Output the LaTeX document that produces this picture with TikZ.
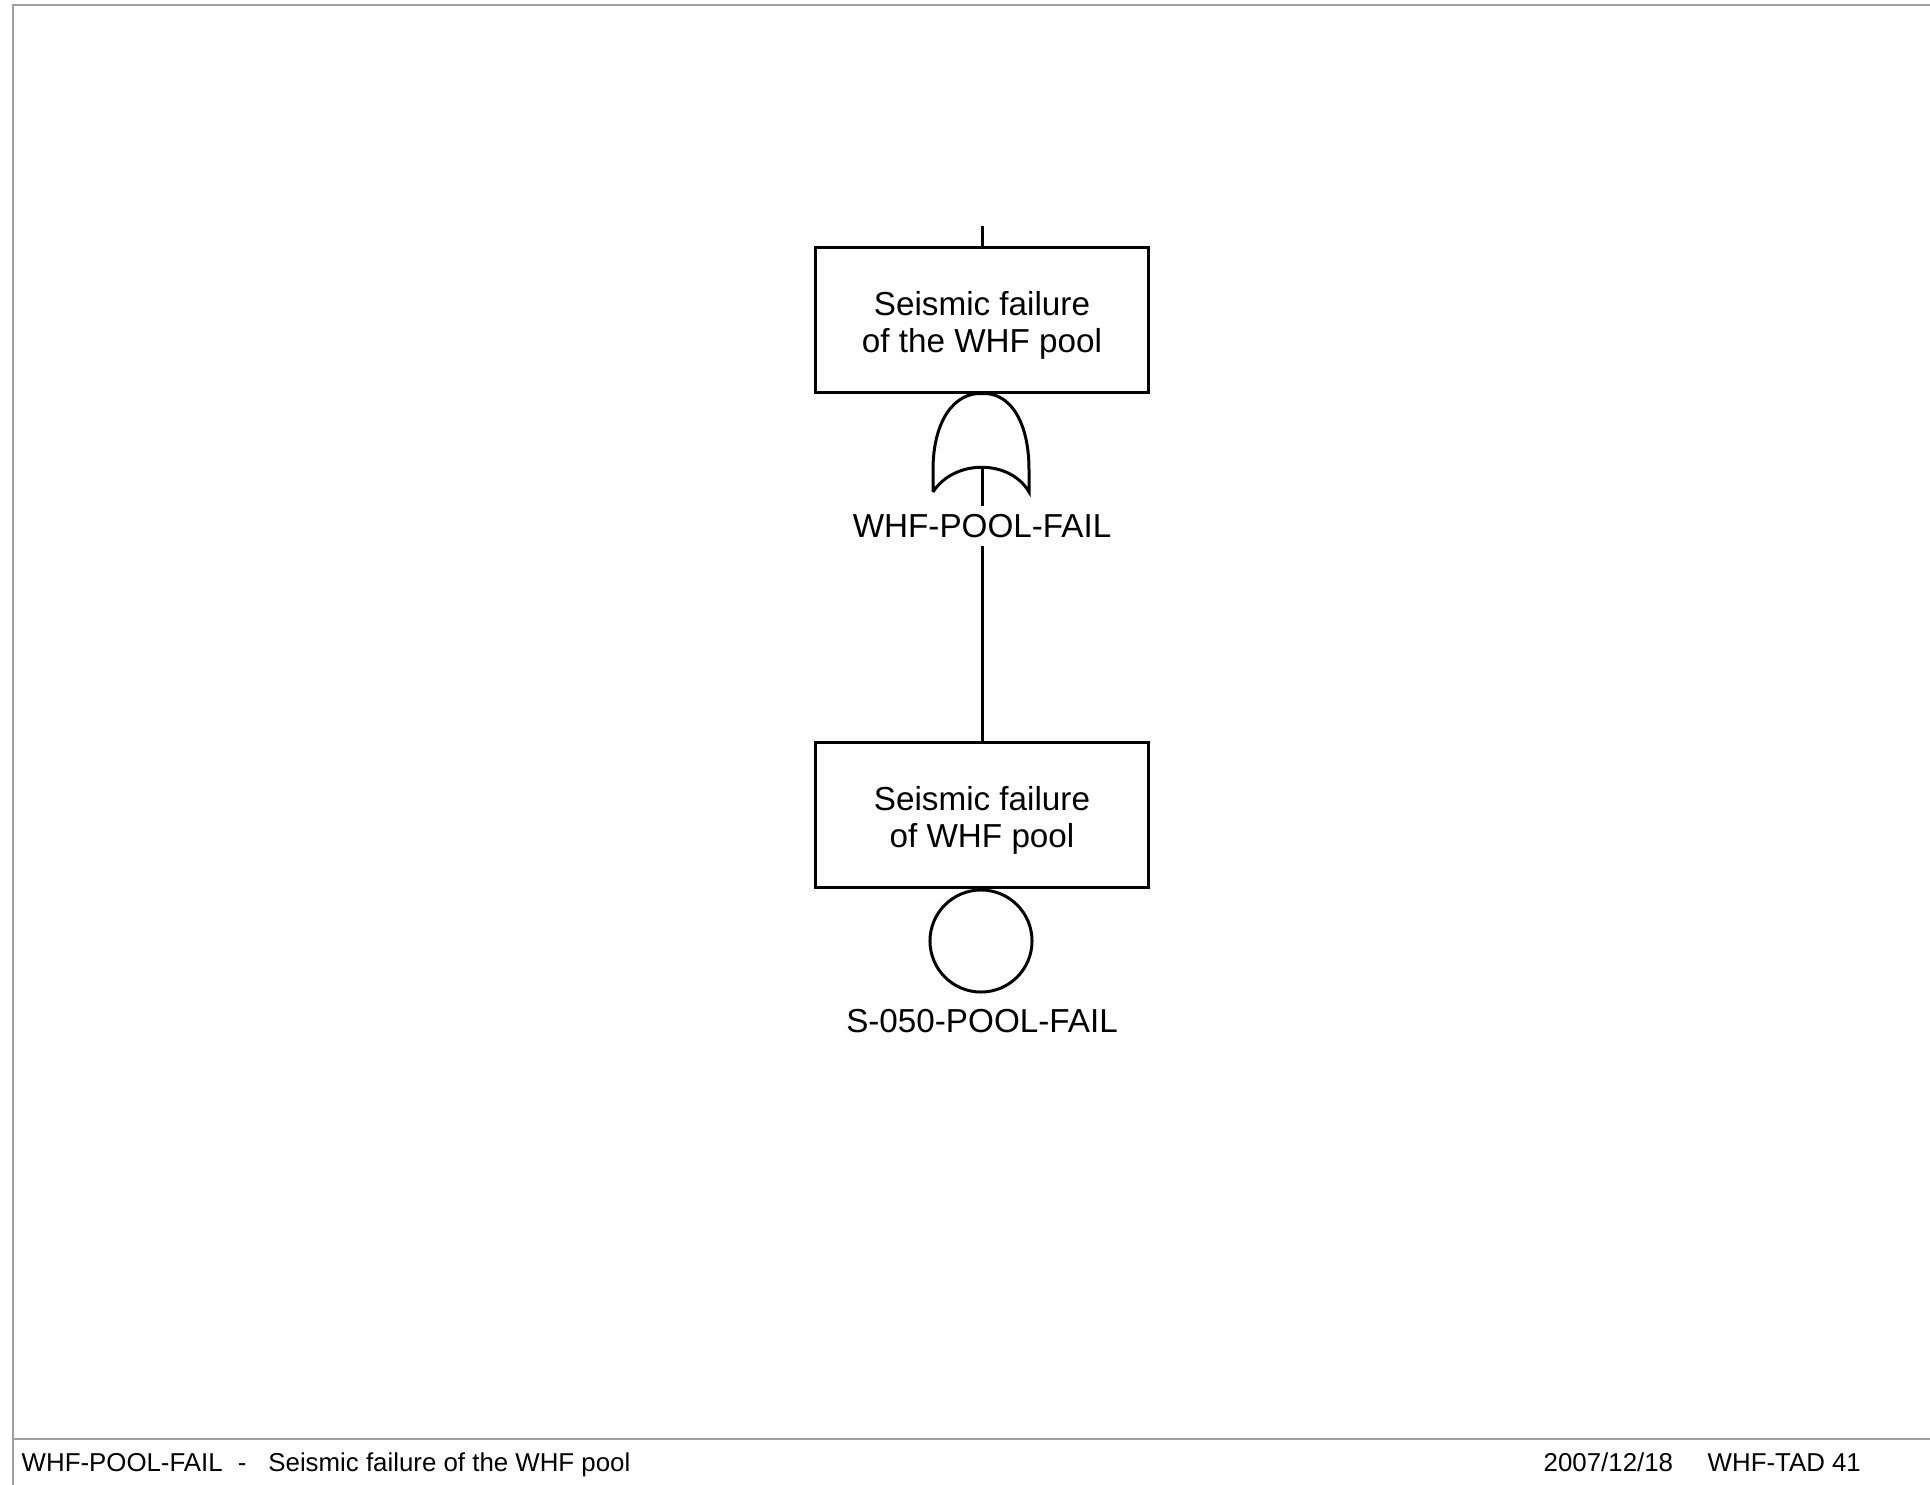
\documentclass[tikz,border=0pt]{standalone}
\usepackage{fontspec}
\setmainfont{Liberation Sans}
\usepackage{tikz}
\usepackage{xcolor}

\tikzset{
  event/.style={draw, thick, line width=0.85pt, minimum width=3.33cm, minimum height=1.44cm, align=center, font=\fontsize{9.45}{10.5}\selectfont},
  gatelabel/.style={inner sep=0.08cm, font=\fontsize{9.45}{11}\selectfont},
  wire/.style={line width=0.85pt},
  frame/.style={gray!75, line width=0.6pt},
  footer/.style={anchor=base west, inner sep=0pt, font=\fontsize{7.35}{8}\selectfont}
}

\begin{document}
\begin{tikzpicture}[x=0.01cm, y=-0.01cm]
        \useasboundingbox (0,0) rectangle (1930,1485);
        % page frame and footer rule
        \draw[frame] (13,1485) -- (13,5) -- (1930,5);
        \draw[frame] (13,1439) -- (1930,1439);

        \coordinate (in) at (982,226);
        \node[event] (top) at (982,320) {\rule{0pt}{10pt}Seismic failure\\of the WHF pool};
        \node[event] (basic) at (982,815) {\rule{0pt}{10pt}Seismic failure\\of WHF pool};

        % OR gate
        \coordinate (orin) at (982,467);
        \draw[wire] (933,492) -- (933,470) .. controls (933,420) and (955,392) .. (top.south)
                    .. controls (1009,392) and (1029,420) .. (1029,470) -- (1029,492)
                    .. controls (1010,459) and (954,459) .. (933,492);
        \node[gatelabel] (orlabel) at (982,526) {WHF-POOL-FAIL};

        % basic event circle
        \node[draw, circle, wire, minimum size=1.02cm, inner sep=0pt] (circ) at (981,941) {};
        \node[gatelabel] (circlabel) at (982,1021) {S-050-POOL-FAIL};

        \draw[wire] (in) -- (top.north);
        \draw[wire] (orin) -- (orlabel.north);
        \draw[wire] (orlabel.south) -- (basic.north);

        % footer
        \node[footer] (ftitle) at (21,1471) {WHF-POOL-FAIL\hspace{0.15cm}-\hspace{0.22cm}Seismic failure of the WHF pool};
        \node[footer] (fdate) at (1543,1471) {2007/12/18};
        \node[footer] (fid) at (1707,1471) {WHF-TAD 41};
    \end{tikzpicture}
\end{document}
